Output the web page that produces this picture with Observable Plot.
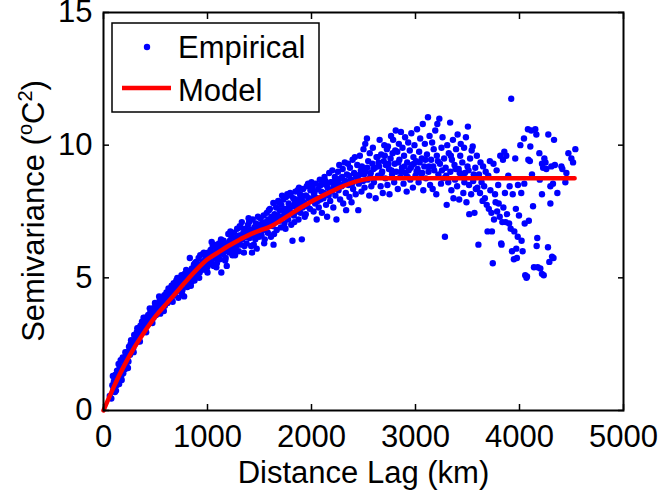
<!DOCTYPE html>
<html>
<head>
<meta charset="utf-8">
<script src="https://cdn.jsdelivr.net/npm/d3@7"></script>
<script src="https://cdn.jsdelivr.net/npm/@observablehq/plot@0.6"></script>
<style>
  html, body { margin: 0; padding: 0; background: #fff; }
</style>
</head>
<body>
<div id="chart"></div>
<script>
const xTicks = [0, 1000, 2000, 3000, 4000, 5000];
const yTicks = [0, 5, 10, 15];
const xLabel = "Distance Lag (km)";
const legendLabels = ["Empirical", "Model"];

const modelLag   = [0, 100, 200, 300, 400, 500, 600, 700, 800, 900, 1000, 1100, 1200, 1300, 1400, 1500, 1600, 1700, 1800, 1900, 2000, 2100, 2200, 2300, 2400, 2500, 2600, 4530];
const modelGamma = [0, 0.9, 1.7, 2.4, 3.0, 3.55, 4.0, 4.45, 4.9, 5.33, 5.7, 5.95, 6.2, 6.42, 6.62, 6.78, 6.92, 7.15, 7.4, 7.65, 7.88, 8.08, 8.27, 8.45, 8.6, 8.7, 8.75, 8.75];

const empirical0to500 = [[60,0.55],[75,0.45],[85,0.95],[95,0.8],[100,1.1],[110,0.7],[115,1.35],[125,0.95],[130,1.5],[140,1.2],[145,1.75],[150,1.0],[160,1.45],[165,1.9],[170,1.3],[180,1.65],[185,2.0],[190,1.4],[200,1.8],[205,1.55],[215,2.05],[220,1.7],[230,2.2],[240,1.85],[245,2.4],[255,2.1],[260,2.5],[270,2.25],[280,2.6],[285,2.35],[295,2.85],[300,2.5],[310,2.7],[320,2.95],[330,2.6],[335,3.1],[345,2.85],[355,3.2],[360,3.0],[370,3.35],[380,3.05],[390,3.25],[400,3.5],[405,3.15],[415,3.4],[425,3.25],[430,3.6],[440,3.35],[450,3.7],[455,3.45],[465,3.6],[475,3.85],[480,3.5],[490,3.75],[500,3.95],[505,3.6],
  [90,1.3],[120,0.75],[155,1.6],[175,1.15],[210,2.2],[235,1.6],[265,2.65],[290,2.2],[325,3.1],[350,2.6],[385,3.5],[410,2.95],[445,3.85],[470,3.3],[495,4.05]];
const empirical500to1000 = [[515,3.7],[520,4.0],[530,3.8],[540,4.15],[545,3.65],[555,3.95],[560,4.25],[570,3.85],[575,4.1],[585,4.35],[590,3.95],[600,4.2],[605,4.45],[615,4.05],[620,4.3],[630,4.55],[640,4.15],[645,4.4],[655,4.7],[660,4.3],[670,4.55],[675,4.8],[685,4.35],[690,4.6],[700,4.9],[705,4.5],[715,4.75],[720,4.25],[730,5.0],[735,4.65],[745,4.85],[750,5.1],[760,4.55],[765,4.95],[775,4.3],[780,5.15],[790,4.8],[800,5.0],[805,4.65],[815,5.2],[820,4.9],[830,5.75],[835,5.1],[845,4.85],[850,5.35],[860,5.05],[870,5.5],[875,4.9],[885,5.25],[890,5.6],[900,5.1],[910,5.4],[915,5.75],[925,5.2],[930,5.85],[940,5.5],[945,5.3],[955,5.9],[960,5.45],[970,5.65],[980,5.3],[985,5.8],[995,5.55],[1000,5.2],
  [525,3.9],[565,4.05],[610,4.25],[650,4.5],[695,4.7],[740,4.8],[785,5.0],[825,5.05],[865,5.3],[905,5.45],[950,5.6],[990,5.75],
  [535,4.3],[580,3.75],[625,4.6],[665,4.1],[710,5.0],[755,4.4],[795,5.3],[840,4.7],[880,5.55],[920,5.0],[965,5.95],[998,5.4]];
const empirical1000to1500 = [[1005,5.95],[1015,5.5],[1020,5.8],[1030,6.05],[1035,5.6],[1045,5.85],[1050,6.2],[1060,5.45],[1065,6.25],[1075,5.75],[1080,6.0],[1090,5.55],[1095,6.1],[1105,5.85],[1110,6.3],[1120,5.7],[1125,6.05],[1133,5.2],[1140,6.2],[1150,5.9],[1155,6.4],[1165,6.0],[1170,5.65],[1180,6.3],[1185,5.45],[1195,6.15],[1200,6.65],[1210,5.95],[1215,6.4],[1225,6.1],[1230,6.55],[1240,5.85],[1245,6.3],[1255,6.7],[1260,6.05],[1270,6.45],[1275,6.2],[1285,6.85],[1290,6.35],[1300,6.0],[1305,6.6],[1315,6.25],[1320,6.9],[1330,7.1],[1335,6.45],[1345,6.7],[1350,5.95],[1360,6.55],[1365,6.85],[1375,6.3],[1380,6.7],[1390,7.0],[1400,7.1],[1405,6.5],[1415,6.8],[1420,6.2],[1428,5.95],[1435,7.2],[1440,6.6],[1450,6.9],[1460,6.45],[1465,7.05],[1473,6.1],[1480,6.75],[1490,7.0],[1495,6.55],
  [1010,5.7],[1055,5.9],[1100,6.05],[1145,6.05],[1190,6.2],[1235,6.3],[1280,6.5],[1325,6.6],[1370,6.55],[1410,6.75],[1455,6.7],[1500,6.95],
  [1040,6.35],[1085,5.4],[1130,6.45],[1175,5.75],[1220,6.75],[1265,5.85],[1310,6.95],[1355,6.2],[1395,7.25],[1445,6.25],[1485,7.3]];
const empirical1500to2000 = [[1505,6.9],[1510,7.25],[1520,6.6],[1525,7.05],[1535,6.8],[1540,7.35],[1550,6.45],[1555,7.1],[1565,6.9],[1570,7.45],[1580,6.7],[1585,7.2],[1595,7.0],[1600,7.6],[1610,6.55],[1615,7.3],[1625,6.95],[1633,7.82],[1635,6.25],[1645,7.4],[1650,7.1],[1660,7.65],[1665,6.8],[1675,7.35],[1680,7.9],[1690,7.15],[1695,7.55],[1705,6.9],[1710,7.75],[1717,8.1],[1725,7.3],[1730,7.95],[1740,7.05],[1745,7.6],[1755,8.05],[1760,7.4],[1767,8.15],[1775,7.2],[1780,7.8],[1790,7.55],[1800,8.1],[1805,7.0],[1815,7.7],[1817,6.4],[1825,8.0],[1830,7.35],[1840,7.85],[1845,8.25],[1855,7.5],[1860,7.95],[1867,8.3],[1875,7.2],[1880,7.75],[1890,8.15],[1895,7.45],[1905,8.0],[1907,6.45],[1915,7.65],[1920,8.35],[1930,7.85],[1940,8.1],[1945,7.4],[1955,8.45],[1960,7.7],[1967,8.55],[1975,8.0],[1985,7.6],[1990,8.3],[2000,8.6],
  [1530,6.95],[1575,7.05],[1620,7.1],[1655,7.25],[1700,7.3],[1735,7.5],[1770,7.6],[1810,7.45],[1850,7.7],[1885,7.9],[1925,7.75],[1950,8.1],[1995,7.95],
  [1545,6.3],[1590,7.55],[1640,6.65],[1685,7.85],[1750,6.85],[1795,8.2],[1835,7.1],[1880,8.4],[1935,7.3],[1980,8.5]];
const empirical2000to2630 = [[2005,7.95],[2010,8.4],[2020,7.5],[2025,8.15],[2035,7.8],[2040,8.55],[2050,7.2],[2055,8.0],[2065,8.35],[2070,7.65],[2080,8.7],[2085,7.95],[2095,8.25],[2100,7.45],[2110,8.55],[2115,8.0],[2125,8.8],[2133,8.65],[2140,7.75],[2150,7.3],[2155,8.4],[2165,8.1],[2170,8.95],[2180,7.9],[2185,8.6],[2195,8.25],[2200,9.05],[2210,7.65],[2215,8.45],[2225,8.8],[2230,8.1],[2240,7.2],[2245,8.65],[2255,9.0],[2260,8.3],[2267,9.25],[2275,7.95],[2280,8.75],[2290,8.45],[2300,9.1],[2305,7.8],[2315,8.55],[2320,9.35],[2330,8.2],[2333,7.55],[2340,8.9],[2350,9.3],[2355,8.5],[2365,8.05],[2370,9.15],[2380,8.7],[2385,7.85],[2395,9.45],[2400,8.35],[2410,8.95],[2417,9.55],[2425,8.15],[2430,8.8],[2440,9.25],[2450,7.55],[2455,8.55],[2465,9.6],[2470,8.9],[2480,8.25],[2485,9.2],[2495,8.65],[2500,9.85],[2510,8.4],[2517,10.05],[2520,9.0],[2533,10.25],[2540,8.7],[2545,9.4],[2555,8.1],[2560,9.7],[2570,8.95],[2575,8.45],[2585,9.3],[2590,9.9],[2600,8.6],[2610,9.15],[2617,8.0],[2625,9.55],
  [2030,8.25],[2060,7.9],[2090,8.5],[2120,8.2],[2145,8.5],[2175,8.3],[2205,8.6],[2235,8.4],[2265,8.55],[2295,8.8],[2325,8.65],[2360,8.85],[2390,8.55],[2420,8.9],[2445,8.75],[2475,9.05],[2505,8.9],[2535,9.15],[2565,8.8],[2595,9.1]];
const empirical2630to3145 = [[2635,9.55],[2640,8.85],[2650,9.2],[2655,10.2],[2665,8.45],[2670,9.65],[2680,9.0],[2685,8.2],[2695,9.4],[2700,10.0],[2710,8.75],[2715,9.25],[2725,9.85],[2730,8.5],[2735,9.95],[2745,9.1],[2750,8.15],[2760,9.5],[2765,10.35],[2775,8.9],[2780,9.7],[2785,10.2],[2795,8.6],[2800,9.3],[2810,10.55],[2815,9.0],[2825,9.75],[2830,8.35],[2840,10.05],[2845,9.45],[2855,8.8],[2860,10.5],[2870,9.15],[2875,9.9],[2885,8.55],[2890,9.6],[2900,10.3],[2905,8.95],[2915,8.25],[2920,9.35],[2930,10.1],[2935,9.05],[2945,9.8],[2950,8.7],[2960,10.45],[2965,9.25],[2975,8.4],[2980,9.55],[2990,10.0],[3000,8.85],[3005,9.4],[3015,10.6],[3020,9.1],[3030,8.6],[3035,9.75],[3045,10.25],[3050,8.95],[3060,9.5],[3070,10.8],[3075,8.3],[3085,9.2],[3090,10.05],[3100,8.75],[3110,9.65],[3120,11.05],[3125,9.0],[3135,10.35],[3140,8.5],
  [2645,9.35],[2675,8.95],[2705,9.6],[2740,9.3],[2770,9.05],[2805,9.8],[2835,9.35],[2865,9.0],[2895,9.2],[2925,8.8],[2955,9.15],[2985,9.3],[3010,9.0],[3040,9.35],[3065,8.95],[3095,9.45],[3130,9.2]];
const empirical3145to3600 = [[3150,9.45],[3160,10.1],[3165,8.35],[3175,9.85],[3180,9.05],[3190,10.55],[3200,8.15],[3205,9.6],[3210,10.8],[3220,8.9],[3229,11.0],[3235,9.3],[3245,8.55],[3250,9.9],[3260,10.3],[3265,8.75],[3275,9.5],[3283,6.55],[3290,9.15],[3300,7.75],[3305,10.0],[3315,8.6],[3320,9.7],[3333,10.85],[3335,9.0],[3345,8.3],[3350,9.45],[3360,10.2],[3365,8.0],[3375,9.25],[3380,8.7],[3390,9.85],[3400,8.45],[3405,10.4],[3415,9.1],[3420,7.95],[3430,9.6],[3435,10.05],[3445,8.8],[3450,9.35],[3460,8.2],[3467,9.9],[3475,8.95],[3485,10.3],[3490,7.85],[3500,9.2],[3504,10.7],[3515,8.5],[3517,7.4],[3525,9.5],[3535,8.15],[3540,9.8],[3550,9.95],[3555,8.65],[3567,7.45],[3575,9.15],[3580,8.35],[3590,9.6],
  [3170,9.2],[3215,9.4],[3255,9.05],[3295,8.85],[3340,9.6],[3385,9.1],[3425,8.95],[3470,8.6],[3510,9.05],[3560,8.9],[3595,8.4]];
const empirical3600to4000 = [[3605,6.25],[3610,8.9],[3620,8.2],[3625,9.35],[3635,8.6],[3645,7.9],[3650,9.2],[3660,8.45],[3667,8.0],[3675,9.0],[3685,7.75],[3693,6.75],[3700,8.85],[3705,7.6],[3715,9.4],[3720,8.3],[3730,7.45],[3735,6.75],[3743,5.55],[3750,9.3],[3755,7.2],[3765,8.15],[3770,7.85],[3780,9.05],[3785,7.5],[3795,8.5],[3800,7.8],[3810,7.3],[3815,9.6],[3824,6.3],[3827,6.25],[3835,7.1],[3841,9.45],[3845,7.65],[3854,9.75],[3860,8.2],[3867,7.1],[3873,9.6],[3880,7.4],[3892,8.85],[3900,7.05],[3905,8.45],[3915,6.85],[3920,11.75],[3928,6.0],[3935,8.15],[3946,5.7],[3950,6.75],[3959,9.5],[3965,7.6],[3969,6.1],[3975,5.75],[3983,6.55],[3985,8.5],[3995,7.35]];
const empirical4000to4550 = [[4008,10.0],[4017,8.2],[4020,6.4],[4030,6.0],[4043,10.25],[4046,8.55],[4050,7.05],[4055,5.1],[4067,5.0],[4072,5.05],[4081,10.6],[4085,9.45],[4090,7.15],[4100,9.4],[4104,9.95],[4113,10.55],[4120,8.9],[4130,7.7],[4139,5.4],[4152,10.6],[4162,10.4],[4165,6.2],[4171,6.5],[4175,5.4],[4191,9.7],[4195,8.7],[4200,5.35],[4216,9.3],[4216,8.15],[4216,5.15],[4227,9.15],[4233,5.1],[4239,9.5],[4250,9.35],[4258,9.1],[4274,6.15],[4277,10.4],[4287,5.6],[4297,8.45],[4297,7.8],[4306,9.2],[4313,5.8],[4322,8.55],[4327,5.75],[4332,10.2],[4340,9.25],[4364,8.2],[4403,9.2],[4412,9.1],[4441,8.6],[4451,8.95],[4470,9.7],[4499,9.5],[4515,9.35],[4537,9.85]];

const empirical = [].concat(empirical0to500, empirical500to1000, empirical1000to1500, empirical1500to2000,
  empirical2000to2630, empirical2630to3145, empirical3145to3600, empirical3600to4000, empirical4000to4550)
  .map(([lag, gamma]) => ({lag, gamma}));
const model = modelLag.map((lag, i) => ({lag, gamma: modelGamma[i]}));

const FONT = "'Liberation Sans', Arial, Helvetica, sans-serif";
const FS = 31;
const BLUE = "#0000ff";
const RED = "#ff0000";
const fmt = d => String(d);

const chart = Plot.plot({
  width: 659,
  height: 490,
  marginLeft: 103,
  marginRight: 36,
  marginTop: 12,
  marginBottom: 80,
  style: {fontFamily: FONT, fontSize: FS + "px", background: "#fff", color: "#000", overflow: "visible"},
  x: {domain: [0, 5000]},
  y: {domain: [0, 15]},
  marks: [
    Plot.dot(empirical, {x: "lag", y: "gamma", r: 3.2, fill: BLUE, stroke: null}),
    Plot.line(model, {x: "lag", y: "gamma", stroke: RED, strokeWidth: 4.5, curve: "monotone-x"}),
    Plot.frame({stroke: "#000", strokeWidth: 2}),
    Plot.axisX(xTicks, {anchor: "bottom", tickSize: 0, tickPadding: 14, fontSize: FS, tickFormat: fmt, label: null}),
    Plot.axisX(xTicks, {anchor: "bottom", tickSize: -6, strokeWidth: 1.5, tickFormat: () => "", label: null}),
    Plot.axisX(xTicks, {anchor: "top", tickSize: -6, strokeWidth: 1.5, tickFormat: () => "", label: null}),
    Plot.axisY(yTicks, {anchor: "left", tickSize: 0, tickPadding: 11, fontSize: FS, tickFormat: fmt, label: null}),
    Plot.axisY(yTicks, {anchor: "left", tickSize: -6, strokeWidth: 1.5, tickFormat: () => "", label: null}),
    Plot.axisY(yTicks, {anchor: "right", tickSize: -6, strokeWidth: 1.5, tickFormat: () => "", label: null}),
    Plot.text([xLabel], {frameAnchor: "bottom", dy: 72, lineAnchor: "bottom", fontSize: FS, fill: "#000"})
  ]
});

document.getElementById("chart").appendChild(chart);

const svg = d3.select(chart);

// y-axis label with superscripts
const yl = svg.append("text")
  .attr("transform", "translate(44,211) rotate(-90)")
  .attr("text-anchor", "middle")
  .attr("font-family", FONT)
  .attr("font-size", FS)
  .attr("fill", "#000");
yl.append("tspan").text("Semivariance (");
yl.append("tspan").attr("font-size", 20).attr("dy", -12).text("o");
yl.append("tspan").attr("dy", 12).text("C");
yl.append("tspan").attr("font-size", 20).attr("dy", -12).text("2");
yl.append("tspan").attr("dy", 12).text(")");

// legend
const lg = svg.append("g").attr("font-family", FONT).attr("font-size", FS).attr("text-anchor", "start");
lg.append("rect").attr("x", 112).attr("y", 23).attr("width", 207).attr("height", 89)
  .attr("fill", "#fff").attr("stroke", "#000").attr("stroke-width", 1.5);
lg.append("circle").attr("cx", 147).attr("cy", 47).attr("r", 3.2).attr("fill", BLUE);
lg.append("text").attr("x", 178).attr("y", 58).attr("text-anchor", "start").text(legendLabels[0]);
lg.append("line").attr("x1", 122).attr("x2", 171).attr("y1", 88).attr("y2", 88)
  .attr("stroke", RED).attr("stroke-width", 4.5);
lg.append("text").attr("x", 178).attr("y", 101).attr("text-anchor", "start").text(legendLabels[1]);
</script>
</body>
</html>
